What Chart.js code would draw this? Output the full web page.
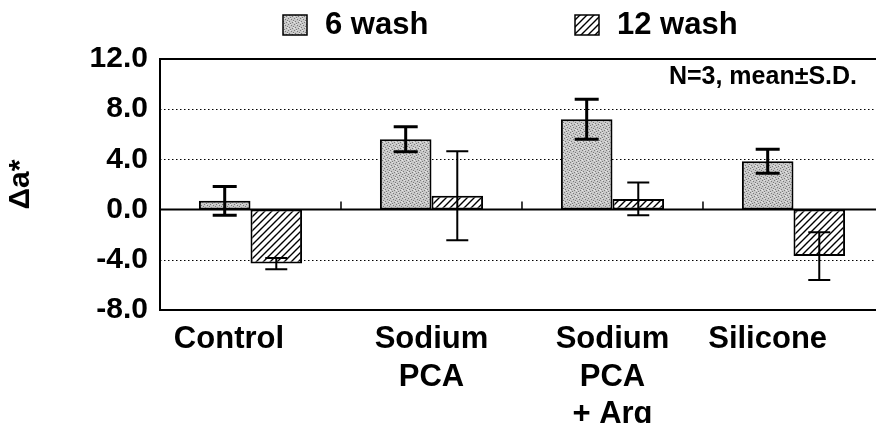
<!DOCTYPE html>
<html>
<head>
<meta charset="utf-8">
<script src="https://cdn.jsdelivr.net/npm/chart.js@4.4.0/dist/chart.umd.min.js"></script>
<style>
  html, body { margin: 0; padding: 0; background: #fff; overflow: hidden; }
</style>
</head>
<body>
<canvas id="washChart" width="890" height="423"></canvas>
<script>
// data
var categories = [["Control"], ["Sodium", "PCA"], ["Sodium", "PCA", "+ Arg"], ["Silicone"]];
var seriesNames = ["6 wash", "12 wash"];
var wash6 = [0.7, 5.6, 7.2, 3.85];
var wash6Sd = [1.15, 1.0, 1.6, 0.95];
var wash12 = [-4.3, 1.1, 0.85, -3.7];
var wash12Sd = [0.45, 3.55, 1.3, 1.9];
var note = "N=3, mean±S.D.";

var fontFamily = "'Liberation Sans', Arial, sans-serif";

// grey speckled fill
function stipple() {
    var c = document.createElement('canvas');
    c.width = 6; c.height = 6;
    var g = c.getContext('2d');
    g.fillStyle = '#c8c8c8';
    g.fillRect(0, 0, 6, 6);
    g.fillStyle = '#7a7a7a';
    [[0, 0], [3, 1], [1, 3], [4, 4], [2, 5], [5, 2]].forEach(function (d) {
        g.fillRect(d[0], d[1], 1, 1);
    });
    g.fillStyle = '#e6e6e6';
    [[2, 0], [5, 3], [0, 4]].forEach(function (d) {
        g.fillRect(d[0], d[1], 1, 1);
    });
    return g.createPattern(c, 'repeat');
}

// diagonal hatching
function hatch() {
    var c = document.createElement('canvas');
    c.width = 7; c.height = 7;
    var g = c.getContext('2d');
    g.fillStyle = '#fff';
    g.fillRect(0, 0, 7, 7);
    g.strokeStyle = '#000';
    g.lineWidth = 1.4;
    g.beginPath();
    g.moveTo(-1, 8); g.lineTo(8, -1);
    g.moveTo(-1, 1); g.lineTo(1, -1);
    g.moveTo(6, 8); g.lineTo(8, 6);
    g.stroke();
    return g.createPattern(c, 'repeat');
}

var frameAndGrid = {
    id: 'frameAndGrid',
    beforeDatasetsDraw: function (chart) {
        var ctx = chart.ctx, a = chart.chartArea, y = chart.scales.y, x = chart.scales.x;
        ctx.save();
        ctx.strokeStyle = '#000';
        ctx.lineWidth = 1;
        ctx.setLineDash([1.5, 2.5]);
        y.ticks.forEach(function (t) {
            if (t.value === 0 || t.value === y.min || t.value === y.max) return;
            var py = Math.round(y.getPixelForValue(t.value)) + 0.5;
            ctx.beginPath(); ctx.moveTo(a.left, py); ctx.lineTo(a.right, py); ctx.stroke();
        });
        ctx.setLineDash([]);
        var zero = y.getPixelForValue(0);
        ctx.lineWidth = 2;
        ctx.beginPath(); ctx.moveTo(a.left, zero); ctx.lineTo(a.right, zero); ctx.stroke();
        // little marks between the groups
        ctx.lineWidth = 1.5;
        for (var i = 0; i < categories.length - 1; i++) {
            var bx = (x.getPixelForValue(i) + x.getPixelForValue(i + 1)) / 2;
            ctx.beginPath(); ctx.moveTo(bx, zero); ctx.lineTo(bx, zero - 8); ctx.stroke();
        }
        // plot frame
        ctx.lineWidth = 2;
        ctx.beginPath();
        ctx.moveTo(a.right, a.top); ctx.lineTo(a.left, a.top);
        ctx.lineTo(a.left, a.bottom); ctx.lineTo(a.right, a.bottom);
        ctx.stroke();
        ctx.restore();
    }
};

var errorBars = {
    id: 'errorBars',
    afterDatasetsDraw: function (chart) {
        var ctx = chart.ctx, y = chart.scales.y;
        var sds = [wash6Sd, wash12Sd];
        var widths = [3, 2];
        var caps = [12, 11];
        ctx.save();
        ctx.strokeStyle = '#000';
        chart.data.datasets.forEach(function (ds, d) {
            chart.getDatasetMeta(d).data.forEach(function (bar, i) {
                var hi = y.getPixelForValue(ds.data[i] + sds[d][i]);
                var lo = y.getPixelForValue(ds.data[i] - sds[d][i]);
                ctx.lineWidth = widths[d];
                ctx.beginPath();
                ctx.moveTo(bar.x, hi); ctx.lineTo(bar.x, lo);
                ctx.moveTo(bar.x - caps[d], hi); ctx.lineTo(bar.x + caps[d], hi);
                ctx.moveTo(bar.x - caps[d], lo); ctx.lineTo(bar.x + caps[d], lo);
                ctx.stroke();
            });
        });
        ctx.restore();
    }
};

var topLegend = {
    id: 'topLegend',
    afterDraw: function (chart) {
        var ctx = chart.ctx;
        var spots = [283, 575];
        ctx.save();
        ctx.font = 'bold 31px ' + fontFamily;
        ctx.textBaseline = 'middle';
        chart.data.datasets.forEach(function (ds, d) {
            ctx.fillStyle = ds.backgroundColor;
            ctx.fillRect(spots[d], 15, 24, 20);
            ctx.lineWidth = 1.5;
            ctx.strokeStyle = '#000';
            ctx.strokeRect(spots[d], 15, 24, 20);
            ctx.fillStyle = '#000';
            ctx.fillText(ds.label, spots[d] + 42, 25);
        });
        ctx.font = 'bold 25px ' + fontFamily;
        ctx.textAlign = 'right';
        ctx.fillText(note, 857, 77);
        ctx.restore();
    }
};

new Chart(document.getElementById('washChart'), {
    type: 'bar',
    data: {
        labels: categories,
        datasets: [
            { label: seriesNames[0], data: wash6, backgroundColor: stipple(), borderColor: '#000',
              borderWidth: 2, borderSkipped: false, categoryPercentage: 0.57, barPercentage: 1.0 },
            { label: seriesNames[1], data: wash12, backgroundColor: hatch(), borderColor: '#000',
              borderWidth: 2, borderSkipped: false, categoryPercentage: 0.57, barPercentage: 1.0 }
        ]
    },
    options: {
        responsive: false,
        animation: false,
        layout: { padding: { top: 59, right: 2, left: 0, bottom: 0 } },
        plugins: {
            legend: { display: false },
            tooltip: { enabled: false }
        },
        scales: {
            x: {
                grid: { display: false, drawTicks: false },
                border: { display: false },
                ticks: {
                    color: '#000',
                    padding: 11,
                    maxRotation: 0,
                    autoSkip: false,
                    font: { family: fontFamily, size: 31, weight: 'bold', lineHeight: 1.21 },
                    callback: function (v, i) {
                        var l = categories[i];
                        if (l.length > 1) return l;
                        // single-line labels sit a little left of their bars
                        return l[0] + (i === 0 ? '     ' : '      ');
                    }
                },
                afterFit: function (s) { s.height = 113; }
            },
            y: {
                min: -8,
                max: 12,
                grid: { display: false, drawTicks: false },
                border: { display: false },
                ticks: {
                    stepSize: 4,
                    color: '#000',
                    padding: 12,
                    font: { family: fontFamily, size: 30, weight: 'bold' },
                    callback: function (v) { return v.toFixed(1); }
                },
                title: {
                    display: true,
                    text: 'Δa*',
                    color: '#000',
                    font: { family: fontFamily, size: 30, weight: 'bold', lineHeight: 1.2 },
                    padding: { top: 3, bottom: 0 }
                },
                afterFit: function (s) { s.width = 160; }
            }
        }
    },
    plugins: [frameAndGrid, errorBars, topLegend]
});
</script>
</body>
</html>
